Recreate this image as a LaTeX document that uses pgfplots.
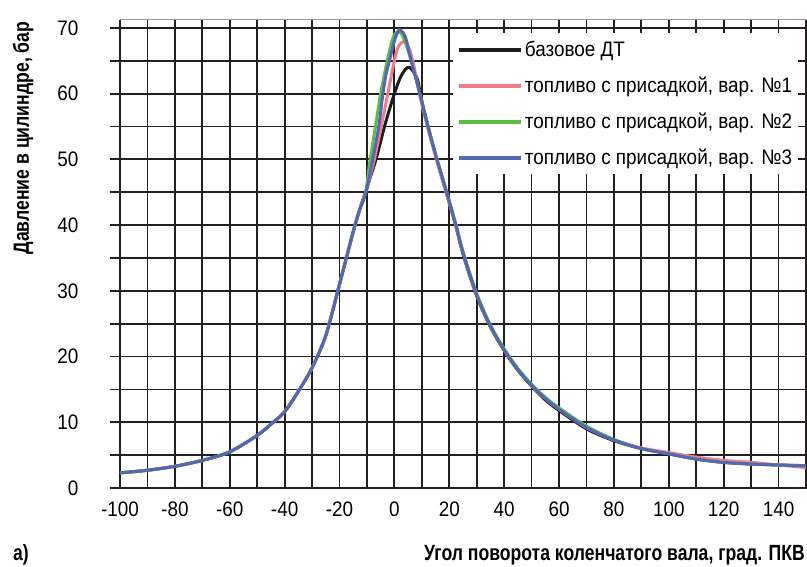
\documentclass[border=0pt]{standalone}
\usepackage{fontspec}
\setmainfont{Liberation Sans}[FakeStretch=0.9]
\newfontfamily\lblfont{Liberation Sans}[FakeStretch=0.8]
\usepackage{pgfplots}
\pgfplotsset{compat=1.18}

\definecolor{gridc}{RGB}{35,31,32}
\definecolor{cblack}{RGB}{30,28,29}
\definecolor{cred}{RGB}{241,124,137}
\definecolor{cgreen}{RGB}{96,186,70}
\definecolor{cblue}{RGB}{82,104,178}

\begin{document}
\begin{tikzpicture}
\begin{axis}[
    name=ax,
    scale only axis,
    width=686pt, height=468pt,
    xmin=-100, xmax=150,
    ymin=0, ymax=71.2,
    xtick={-100,-80,...,140},
    minor xtick={-90,-70,...,150},
    ytick={0,10,...,70},
    minor ytick={5,15,...,65},
    grid=both,
    major grid style={draw=gridc, line width=1.8pt},
    minor grid style={draw=gridc, line width=1.8pt},
    axis line style={draw=none},
    tick align=outside,
    major tick length=10pt,
    minor tick length=10pt,
    xtick style={draw=none},
    ytick style={draw=gridc, line width=1.8pt},
    ticklabel style={font=\fontsize{21}{21}\selectfont},
    yticklabel style={anchor=east, xshift=-28pt},
    /pgf/number format/assume math mode=true,
    legend cell align=left,
    legend style={
        at={(rel axis cs:0.485,0.972)}, anchor=north west,
        fill=white, draw=none,
        inner xsep=4pt, inner ysep=6pt,
        font=\fontsize{21}{21}\selectfont,
        row sep=15pt,
    },
    legend image code/.code={\draw[#1, line width=4pt] (0pt,0pt) -- (62pt,0pt);},
    every axis plot/.append style={smooth, line width=3pt},
]
% common rising part is repeated in each series
\addplot[cblack] coordinates {
    (-100,2.3) (-90,2.7) (-80,3.3) (-70,4.2) (-60,5.5) (-50,8.0) (-45,9.7)
    (-40,11.6) (-35,14.7) (-30,18.3) (-25,23.2) (-20,31.0) (-15,39.0)
    (-12.7,42.3) (-10,45.7) (-9.1,46.9) (-6.7,50) (-3.6,55) (-1.5,58)
    (0,60) (2,62.3) (4,63.7) (5.5,64.0) (7,63.3) (8.5,62) (9.9,59)
    (12.3,55) (15.4,50) (18.9,45) (22.3,40) (25,35.6) (30,29.2) (35,24.5)
    (40,20.9) (45,17.9) (50,15.5) (55,13.4) (60,11.8) (70,9.0) (80,7.2)
    (90,6.0) (100,5.2) (110,4.4) (120,3.9) (130,3.65) (140,3.5) (150,3.4)
};
\addlegendentry{базовое ДТ}
\addplot[cred] coordinates {
    (-100,2.3) (-90,2.7) (-80,3.3) (-70,4.2) (-60,5.5) (-50,8.0) (-45,9.7)
    (-40,11.6) (-35,14.7) (-30,18.3) (-25,23.2) (-20,31.0) (-15,39.0)
    (-12.7,42.3) (-10,45.6) (-9.4,46.5) (-7.3,50) (-4.8,55) (-2.4,60)
    (0,65) (1.5,67.2) (3.3,67.9) (5,67.2) (6.7,65) (9.1,60) (12,55)
    (15.3,50) (18.8,45) (22.3,40) (25,35.8) (30,29.4) (35,24.6) (40,21.0)
    (45,18.0) (50,15.6) (55,13.6) (60,12.0) (70,9.2) (80,7.3) (90,6.1)
    (100,5.4) (110,4.7) (120,4.2) (130,3.9) (140,3.5) (150,3.1)
};
\addlegendentry{топливо с присадкой, вар. №1}
\addplot[cgreen] coordinates {
    (-100,2.3) (-90,2.7) (-80,3.3) (-70,4.2) (-60,5.5) (-50,8.0) (-45,9.7)
    (-40,11.6) (-35,14.7) (-30,18.3) (-25,23.2) (-20,31.0) (-15,39.0)
    (-12.7,42.3) (-10.5,45) (-9,49.5) (-6.9,55) (-5,60) (-2.6,65)
    (-0.5,68.5) (1.2,69.4) (3,68.8) (6,65.2) (9.2,60.1) (12.2,55.1)
    (15.5,50.1) (19.1,45) (22.5,40) (25,36.0) (30,29.6) (35,24.8) (40,21.2)
    (45,18.2) (50,15.8) (55,13.8) (60,12.2) (70,9.4) (80,7.4) (90,6.0)
    (100,5.2) (110,4.4) (120,3.9) (130,3.65) (140,3.5) (150,3.35)
};
\addlegendentry{топливо с присадкой, вар. №2}
\addplot[cblue] coordinates {
    (-100,2.3) (-90,2.7) (-80,3.3) (-70,4.2) (-60,5.5) (-50,8.0) (-45,9.7)
    (-40,11.6) (-35,14.7) (-30,18.3) (-25,23.2) (-20,31.0) (-15,39.0)
    (-12.7,42.3) (-10.3,45) (-7.9,50) (-5.7,55) (-4.2,60) (-3,63)
    (-1.8,65) (0,68) (1.8,69.7) (4,68.6) (6.1,65) (9.3,60) (12.2,55)
    (15.5,50) (19,45) (22.4,40) (25,35.8) (30,29.4) (35,24.6) (40,21.0)
    (45,18.0) (50,15.6) (55,13.6) (60,12.0) (70,9.2) (80,7.3) (90,6.0)
    (100,5.2) (110,4.4) (120,3.9) (130,3.65) (140,3.5) (150,3.35)
};
\addlegendentry{топливо с присадкой, вар. №3}
\draw[gray!80, line width=1pt] (rel axis cs:0,1) -- (rel axis cs:1,1);
\end{axis}
\node[rotate=90, font=\lblfont\bfseries\fontsize{22}{22}\selectfont]
    at ([shift={(-97pt,350pt)}]ax.south west) {Давление в цилиндре, бар};
\node[anchor=base east, inner sep=0pt, font=\lblfont\bfseries\fontsize{22}{22}\selectfont]
    at ([shift={(-1pt,-72pt)}]ax.south east) {Угол поворота коленчатого вала, град. ПКВ};
\node[anchor=base west, inner sep=0pt, font=\lblfont\bfseries\fontsize{22}{22}\selectfont]
    at ([shift={(-107pt,-72pt)}]ax.south west) {а)};
\pgfresetboundingbox
\path[use as bounding box] ([shift={(-120pt,-78pt)}]ax.south west) rectangle ++(807pt,566pt);
\end{tikzpicture}
\end{document}
